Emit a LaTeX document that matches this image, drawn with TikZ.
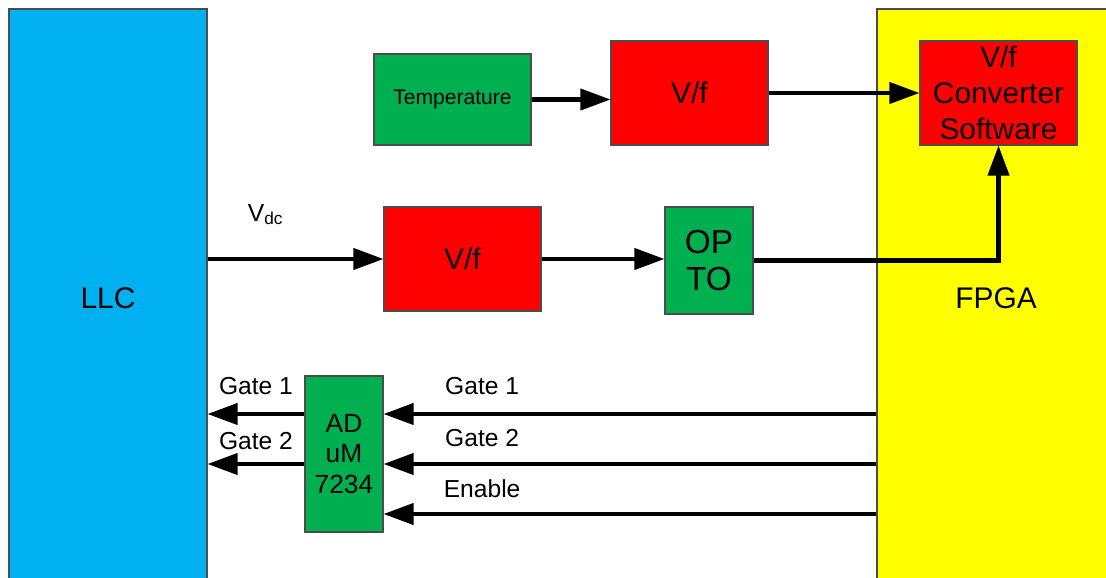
\documentclass[tikz,border=0pt]{standalone}
\usepackage{fontspec}
\setmainfont{Liberation Sans}
\usetikzlibrary{arrows.meta}
\definecolor{llcblue}{HTML}{00B0F0}
\definecolor{fpgayellow}{HTML}{FFFF00}
\definecolor{vfred}{HTML}{FF0000}
\definecolor{isogreen}{HTML}{00B050}
\tikzset{
  block/.style={draw=black!70, line width=0.6pt, inner sep=0pt, align=center},
  redblock/.style={block, fill=vfred, minimum width=3.14cm, minimum height=2.08cm, font=\fontsize{17}{20.5}\selectfont},
  greenblock/.style={block, fill=isogreen},
  link/.style={line width=2.3pt, -{Triangle[length=0.6cm,width=0.42cm]}},
  linklabel/.style={font=\fontsize{14}{17}\selectfont, inner sep=0pt, anchor=base},
}

\begin{document}
\begin{tikzpicture}
\useasboundingbox (0,0) rectangle (22.12,11.54);
\clip (0,0) rectangle (22.12,11.54);
% the two big side blocks
\node[block, fill=llcblue, minimum width=3.96cm, minimum height=11.56cm, font=\fontsize{17}{20}\selectfont] (llc) at (2.16,5.58) {LLC};
\node[block, fill=fpgayellow, minimum width=4.76cm, minimum height=11.56cm, font=\fontsize{17}{20}\selectfont] (fpga) at (19.92,5.58) {FPGA};
% signal chain blocks
\node[greenblock, minimum width=3.14cm, minimum height=1.82cm, font=\fontsize{12}{14}\selectfont] (temp) at (9.05,9.55) {Temperature};
\node[redblock] (vf1) at (13.79,9.68) {V/f};
\node[redblock] (conv) at (19.97,9.68) {V/f\\Converter\\Software};
\node[redblock] (vf2) at (9.25,6.36) {V/f};
\node[greenblock, minimum width=1.76cm, minimum height=2.14cm, font=\fontsize{19}{21.5}\selectfont] (opto) at (14.18,6.33) {OP\\TO};
\node[greenblock, minimum width=1.56cm, minimum height=3.12cm, font=\fontsize{15}{17.5}\selectfont] (adum) at (6.88,2.46) {AD\\uM\\7234};
% gate driver lines
\coordinate (g1) at (0,3.26);
\coordinate (g2) at (0,2.26);
\coordinate (en) at (0,1.26);

\draw[link] (temp.east) -- (temp.east -| vf1.west);
\draw[link] (vf1) -- (conv);
\draw[link] (vf2.west -| llc.east) -- (vf2.west)
  node[linklabel, pos=0.33, yshift=0.76cm, font=\fontsize{14}{16}\selectfont] {V\textsubscript{dc}};
\draw[link] (vf2.east) -- (vf2.east -| opto.west);
\draw[link] (opto.east) -| (conv.south);

\draw[link] (fpga.west |- g1) -- (adum.east |- g1) node[linklabel, pos=0.8, yshift=0.4cm] {Gate 1};
\draw[link] (fpga.west |- g2) -- (adum.east |- g2) node[linklabel, pos=0.8, yshift=0.36cm] {Gate 2};
\draw[link] (fpga.west |- en) -- (adum.east |- en) node[linklabel, pos=0.8, yshift=0.34cm] {Enable};
\draw[link] (adum.west |- g1) -- (llc.east |- g1) node[linklabel, pos=0.5, yshift=0.4cm] {Gate 1};
\draw[link] (adum.west |- g2) -- (llc.east |- g2) node[linklabel, pos=0.5, yshift=0.3cm] {Gate 2};
\end{tikzpicture}
\end{document}
